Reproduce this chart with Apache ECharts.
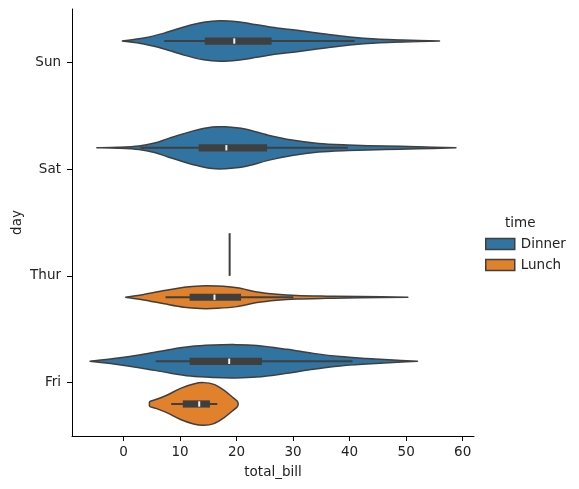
<!DOCTYPE html>
<html lang="en">
<head>
    <meta charset="UTF-8">
    <title>Violin plot</title>
    <script src="https://cdn.jsdelivr.net/npm/echarts@6/dist/echarts.min.js"></script>
    <style>
        html, body { margin: 0; padding: 0; background: #fff; }
        #chart { width: 579px; height: 489px; }
    </style>
</head>
<body>
    <div id="chart"></div>
    <script>
        // categories
        var days = ['Sun', 'Sat', 'Thur', 'Fri'];
        var times = ['Dinner', 'Lunch'];
        var xTicks = [0, 10, 20, 30, 40, 50, 60];

        // density profiles: [total_bill, relative width]
        var sunDinner = [[-0.2, 0], [3.6, 0.14], [7.2, 0.37], [10.7, 0.66], [14.2, 0.88], [17.1, 0.95], [20.1, 0.9],
            [23.6, 0.76], [27.1, 0.61], [30.7, 0.5], [35.3, 0.34], [40.0, 0.19], [44.7, 0.09], [49.4, 0.05], [55.9, 0]];
        var satDinner = [[-4.7, 0], [-1.0, 0.02], [2.75, 0.08], [5.5, 0.22], [8.0, 0.44], [12.2, 0.78], [15.7, 0.97],
            [18.0, 0.98], [21.5, 0.88], [25.6, 0.59], [29.8, 0.36], [34.5, 0.2], [39.7, 0.13], [46.2, 0.08], [52.0, 0.05], [58.8, 0]];
        var thurLunch = [[0.4, 0], [3.6, 0.13], [7.2, 0.31], [10.7, 0.47], [13.6, 0.53], [16.6, 0.52], [20.1, 0.44],
            [23.6, 0.25], [27.1, 0.14], [30.6, 0.08], [35.9, 0.05], [41.8, 0.03], [50.3, 0]];
        var friDinner = [[-5.9, 0], [-1.65, 0.13], [3.05, 0.31], [7.75, 0.53], [11.85, 0.69], [16.0, 0.76], [19.5, 0.78],
            [23.6, 0.74], [28.9, 0.56], [33.6, 0.37], [38.3, 0.22], [43.0, 0.13], [47.7, 0.06], [52.0, 0]];
        var friLunch = [[4.6, 0], [4.7, 0.12], [6.0, 0.23], [7.75, 0.42], [10.1, 0.73], [12.4, 0.94], [14.2, 1.0],
            [16.0, 0.92], [17.7, 0.66], [19.2, 0.34], [20.1, 0.14], [20.3, 0]];

        // box stats: [whisker low, q1, median, q3, whisker high]
        var sunDinnerBox = [7.2, 14.4, 19.6, 26.2, 40.9];
        var satDinnerBox = [3.0, 13.3, 18.2, 25.4, 39.7];
        var thurLunchBox = [7.45, 11.7, 16.1, 20.8, 30.05];
        var friDinnerBox = [5.7, 11.7, 18.7, 24.5, 40.5];
        var friLunchBox = [8.45, 10.5, 13.4, 15.3, 16.6];

        // Thur dinner has one observation only
        var thurDinnerValue = 18.78;

        var colors = { Dinner: '#3274a1', Lunch: '#e1812c' };
        var edge = '#3f3f3f';

        var groups = {
            Dinner: [
                { day: 0, profile: sunDinner, box: sunDinnerBox },
                { day: 1, profile: satDinner, box: satDinnerBox },
                { day: 2, single: thurDinnerValue },
                { day: 3, profile: friDinner, box: friDinnerBox }
            ],
            Lunch: [
                { day: 2, profile: thurLunch, box: thurLunchBox },
                { day: 3, profile: friLunch, box: friLunchBox }
            ]
        };

        // catmull-rom through the points, as cubic bezier segments
        function curve(pts) {
            var s = '';
            for (var i = 0; i < pts.length - 1; i++) {
                var p0 = pts[i - 1] || pts[i], p1 = pts[i], p2 = pts[i + 1], p3 = pts[i + 2] || pts[i + 1];
                var c1x = p1[0] + (p2[0] - p0[0]) / 6, c1y = p1[1] + (p2[1] - p0[1]) / 6;
                var c2x = p2[0] - (p3[0] - p1[0]) / 6, c2y = p2[1] - (p3[1] - p1[1]) / 6;
                s += ' C' + c1x + ' ' + c1y + ' ' + c2x + ' ' + c2y + ' ' + p2[0] + ' ' + p2[1];
            }
            return s;
        }

        function makeRender(time) {
            return function (params, api) {
                var g = groups[time][params.dataIndex];
                var band = api.size([0, 1])[1];
                var off = (time === 'Dinner' ? -0.2 : 0.2) * band;
                var half = 0.2 * band;
                var cy = api.coord([0, g.day])[1] + off;
                var children = [];

                if (g.single != null) {
                    var sx = api.coord([g.single, g.day])[0];
                    children.push({
                        type: 'line',
                        shape: { x1: sx, y1: cy - half, x2: sx, y2: cy + half },
                        style: { stroke: edge, lineWidth: 2 }
                    });
                    return { type: 'group', children: children };
                }

                var top = g.profile.map(function (p) { return [api.coord([p[0], g.day])[0], cy - p[1] * half]; });
                var bot = g.profile.map(function (p) { return [api.coord([p[0], g.day])[0], cy + p[1] * half]; }).reverse();
                var d = 'M' + top[0][0] + ' ' + top[0][1] + curve(top) +
                    ' L' + bot[0][0] + ' ' + bot[0][1] + curve(bot) + ' Z';
                children.push({
                    type: 'path',
                    shape: { pathData: d },
                    style: { fill: colors[time], stroke: edge, lineWidth: 1.5, lineJoin: 'round' }
                });

                var b = g.box.map(function (v) { return api.coord([v, g.day])[0]; });
                children.push({
                    type: 'line',
                    shape: { x1: b[0], y1: cy, x2: b[4], y2: cy },
                    style: { stroke: edge, lineWidth: 2 }
                });
                children.push({
                    type: 'rect',
                    shape: { x: b[1], y: cy - 3.6, width: b[3] - b[1], height: 7.2 },
                    style: { fill: edge }
                });
                children.push({
                    type: 'rect',
                    shape: { x: b[2] - 1, y: cy - 2.7, width: 2, height: 5.4 },
                    style: { fill: '#f2f2f2' }
                });
                return { type: 'group', children: children };
            };
        }

        var chart = echarts.init(document.getElementById('chart'), null, { renderer: 'canvas' });
        var font = 'DejaVu Sans';

        chart.setOption({
            animation: false,
            textStyle: { fontFamily: font },
            grid: { left: 72, top: 9, width: 402, height: 427, containLabel: false, outerBoundsMode: 'none' },
            title: {
                text: 'time', left: 500, top: 211,
                textStyle: { fontFamily: font, fontSize: 13.5, fontWeight: 'normal', color: '#222' }
            },
            legend: {
                orient: 'vertical', left: 480, top: 232,
                itemWidth: 29, itemHeight: 11, itemGap: 7,
                icon: 'rect',
                textStyle: { fontFamily: font, fontSize: 13.5, color: '#222', padding: [0, 0, 0, 1] },
                data: times.map(function (t) {
                    return { name: t, itemStyle: { color: colors[t], borderColor: edge, borderWidth: 1.5 } };
                })
            },
            xAxis: {
                type: 'value', min: -9.1, max: 62.0,
                name: 'total_bill', nameLocation: 'middle', nameGap: 29, nameMoveOverlap: false,
                nameTextStyle: { fontFamily: font, fontSize: 13.5, color: '#222' },
                splitLine: { show: false },
                axisLine: { show: true, onZero: false, lineStyle: { color: '#000', width: 1 } },
                axisTick: { show: true, length: 5, lineStyle: { color: '#000' }, customValues: xTicks },
                axisLabel: { fontFamily: font, fontSize: 13.5, color: '#222', margin: 9, customValues: xTicks }
            },
            yAxis: {
                type: 'category', data: days, inverse: true,
                name: 'day', nameLocation: 'middle', nameGap: 48, nameRotate: 90, nameMoveOverlap: false,
                nameTextStyle: { fontFamily: font, fontSize: 13.5, color: '#222' },
                axisLine: { show: true, onZero: false, lineStyle: { color: '#000', width: 1 } },
                axisTick: { show: true, alignWithLabel: true, length: 5, lineStyle: { color: '#000' } },
                axisLabel: { fontFamily: font, fontSize: 13.5, color: '#222', margin: 11 },
                splitLine: { show: false }
            },
            series: times.map(function (t) {
                return {
                    name: t,
                    type: 'custom',
                    itemStyle: { color: colors[t], borderColor: edge, borderWidth: 1.5 },
                    renderItem: makeRender(t),
                    encode: { x: 0, y: 1 },
                    data: groups[t].map(function (g) {
                        return [g.single != null ? g.single : g.box[2], g.day];
                    })
                };
            })
        });
    </script>
</body>
</html>
